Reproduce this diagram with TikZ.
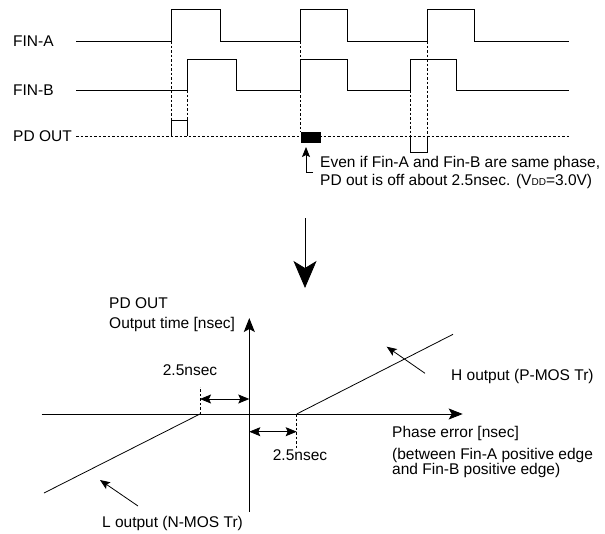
\documentclass[tikz,border=0pt]{standalone}
\usepackage{fontspec}
\setmainfont{Liberation Sans}
\usetikzlibrary{positioning, arrows.meta}

\begin{document}
\begin{tikzpicture}[x=1pt, y=-1pt,
  font=\fontsize{15.5}{19}\selectfont,
  wave/.style={line width=1pt},
  pulse/.style={line width=0.8pt},
  guide/.style={line width=0.6pt, dash pattern=on 2.5pt off 2pt},
  lbl/.style={inner sep=0pt, anchor=west, align=left},
  axis/.style={line width=1.2pt, -{Stealth[length=14pt, width=11pt, inset=3pt]}},
  dim/.style={line width=0.8pt,
    {Stealth[length=11pt, width=9pt, inset=2pt]}-{Stealth[length=11pt, width=9pt, inset=2pt]}},
  pointer/.style={line width=0.8pt, -{Stealth[length=10pt, width=8pt, inset=2pt]}},
]
\useasboundingbox (0,0) rectangle (605,533);

% timing chart
\node[lbl] (fina) at (13,41) {FIN-A};
\node[lbl] (finb) at (13,90) {FIN-B};
\node[lbl] (pdout) at (13,136) {PD OUT};

\draw[wave] (76,41) -| (171,9.5) -| (220,41) -| (300.5,9.5) -| (347.5,41)
  -| (427,9.5) -| (474,41) -- (569,41);
\draw[wave] (76,90) -| (187,59) -| (236,90) -| (300.5,59) -| (347.5,90)
  -| (410,59) -| (456.5,90) -- (569,90);
\draw[guide] (76,136) -- (569,136);

\draw[pulse] (171,136) |- (187,120) -- (187,136);
\draw[pulse] (410,136) |- (427,152) -- (427,136);
\node[fill, inner sep=0pt, minimum width=20.5pt, minimum height=11.5pt,
  anchor=north west] (offbox) at (300.5,131.5) {};

\draw[guide] (171,41) -- (171,120);
\draw[guide] (187,90) -- (187,120);
\draw[guide] (300.5,41) -- (offbox.north west);
\draw[guide] (410,90) -- (410,136);
\draw[guide] (427,41) -- (427,136);

\node[lbl, font=\fontsize{15.5}{18.7}\selectfont] (note) at (320,172.4)
  {Even if Fin-A and Fin-B are same phase,\\
   PD out is off about 2.5nsec. (V{\fontsize{10}{10}\selectfont DD}=3.0V)};
\coordinate (notetip) at (306,147);
\draw[pointer] ([xshift=-7pt]note.west) -| (notetip);

% transition arrow
\coordinate (bigtop) at (305,218);
\coordinate (bigtip) at (305,288);
\draw[line width=0.8pt, -{Stealth[length=27pt, width=23pt, inset=7pt]}] (bigtop) -- (bigtip);

% characteristic
\coordinate (yb) at (249.3,511.7);
\coordinate (yt) at (249.3,318);
\coordinate (xl) at (41.7,414);
\coordinate (xr) at (462.7,414);
\coordinate (lknee) at (200,414);
\coordinate (hknee) at (296.7,414);
\draw[axis] (yb) -- (yt);
\draw[axis, line width=0.9pt] (xl) -- (xr);
\draw[line width=0.8pt] (hknee) -- (453,334.3);
\draw[line width=0.8pt] (lknee) -- (44,493);

\draw[guide] (lknee) -- ++(0,-27);
\draw[guide] (hknee) -- ++(0,34);
\draw[dim] (200,399) -- (249.3,399);
\draw[dim] (249.3,431.7) -- (296.7,431.7);

\node (dl) at (190,370) {2.5nsec};
\node (dr) at (300,455) {2.5nsec};
\node[lbl, font=\fontsize{15.5}{20}\selectfont] (ylab) at (109,315)
  {PD OUT\\Output time [nsec]};
\node[lbl] (xlab) at (392,433) {Phase error [nsec]};
\node[lbl, font=\fontsize{15.5}{15.5}\selectfont] (xsub) at (392,463)
  {(between Fin-A positive edge\\and Fin-B positive edge)};
\node[lbl] (hlab) at (451,376) {H output (P-MOS Tr)};
\node (llab) at (172.5,523.3) {L output (N-MOS Tr)};

\coordinate (hfrom) at (425,373.3);
\coordinate (hto) at (386.7,346.7);
\coordinate (lfrom) at (138,506);
\coordinate (lto) at (100,480);
\draw[pointer] (hfrom) -- (hto);
\draw[pointer] (lfrom) -- (lto);
\end{tikzpicture}
\end{document}
